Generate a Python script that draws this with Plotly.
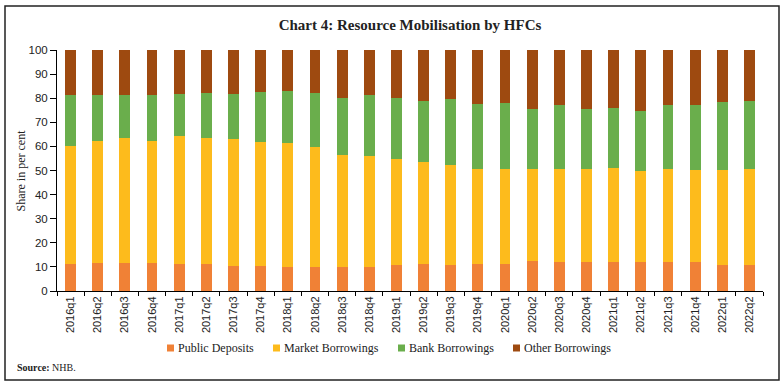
import plotly.graph_objects as go

quarters = ["2016q1","2016q2","2016q3","2016q4","2017q1","2017q2","2017q3","2017q4",
            "2018q1","2018q2","2018q3","2018q4","2019q1","2019q2","2019q3","2019q4",
            "2020q1","2020q2","2020q3","2020q4","2021q1","2021q2","2021q3","2021q4",
            "2022q1","2022q2"]

# cumulative tops
public_top = [11.1,11.5,11.5,11.5,11.1,11.1,10.4,10.5,9.8,9.8,10.1,9.8,10.6,11.1,10.6,11.3,
              11.1,12.3,11.9,11.9,11.9,11.9,11.9,11.9,10.6,10.6]
market_top = [60.3,62.4,63.3,62.2,64.2,63.3,62.9,62.0,61.3,59.6,56.4,56.2,54.6,53.7,52.1,50.5,
              50.6,50.5,50.8,50.5,50.9,49.8,50.8,50.2,50.1,50.5]
bank_top = [81.2,81.2,81.2,81.2,81.6,82.0,81.6,82.4,82.8,82.0,80.2,81.5,80.2,78.7,79.8,77.5,
            77.9,75.4,77.0,75.4,75.8,74.8,77.0,77.0,78.4,78.7]

public_deposits = public_top
market_borrowings = [round(m - p, 1) for m, p in zip(market_top, public_top)]
bank_borrowings = [round(b - m, 1) for b, m in zip(bank_top, market_top)]
other_borrowings = [round(100 - b, 1) for b in bank_top]

series_names = ["Public Deposits", "Market Borrowings", "Bank Borrowings", "Other Borrowings"]
series_values = [public_deposits, market_borrowings, bank_borrowings, other_borrowings]
series_colors = ["#F08136", "#FDBB1C", "#6AAE4C", "#9E4A10"]

fig = go.Figure()
for name, vals, col in zip(series_names, series_values, series_colors):
    fig.add_trace(go.Bar(x=quarters, y=vals, name=name, showlegend=False,
                         marker=dict(color=col, line=dict(width=0))))

W, H = 784, 387
L, R, T, B = 57, 21, 50, 96
pw, ph = W - L - R, H - T - B

def px(x):
    return (x - L) / pw

def py(y):
    return (H - B - y) / ph

serif = "Liberation Serif"
sans = "Liberation Sans"

shapes = [dict(type="rect", xref="paper", yref="paper",
               x0=px(5), x1=px(779), y0=py(380), y1=py(6),
               line=dict(color="#222", width=1.5), fillcolor="rgba(0,0,0,0)", layer="below")]
annotations = [
    dict(text="Share in per cent", xref="paper", yref="paper", x=px(20), y=0.5,
         textangle=-90, showarrow=False, xanchor="center", yanchor="middle",
         font=dict(family=serif, size=12, color="#222")),
    dict(text="<b>Source:</b> NHB.", xref="paper", yref="paper", x=px(15), y=py(367),
         showarrow=False, xanchor="left", yanchor="middle",
         font=dict(family=serif, size=10, color="#222")),
]

# manual legend (tight marker/text spacing as in the reference)
legend_marker_x = [167, 273, 398, 513]
legend_y = 348
for lx, name, col in zip(legend_marker_x, series_names, series_colors):
    shapes.append(dict(type="rect", xref="paper", yref="paper",
                       x0=px(lx), x1=px(lx + 7), y0=py(legend_y + 3.5), y1=py(legend_y - 3.5),
                       line=dict(width=0), fillcolor=col))
    annotations.append(dict(text=name, xref="paper", yref="paper", x=px(lx + 8.5), y=py(legend_y),
                            showarrow=False, xanchor="left", yanchor="middle",
                            font=dict(family=serif, size=12, color="#222")))

fig.update_layout(
    width=W, height=H,
    barmode="stack", bargap=0.6,
    margin=dict(l=L, r=R, t=T, b=B, pad=0),
    paper_bgcolor="white", plot_bgcolor="white",
    title=dict(text="<b>Chart 4: Resource Mobilisation by HFCs</b>",
               x=0.5, xanchor="center", xref="paper",
               y=1 - 25 / H, yanchor="middle",
               font=dict(family=serif, size=15, color="#222")),
    showlegend=False,
    xaxis=dict(type="category", tickangle=-90, showline=True, linecolor="black", linewidth=1,
               ticks="outside", tickson="boundaries", ticklen=4, tickcolor="black",
               tickfont=dict(family=sans, size=11, color="#222"), showgrid=False),
    yaxis=dict(range=[0, 100], dtick=10, showline=True, linecolor="black", linewidth=1,
               ticks="outside", ticklen=6, tickcolor="black", showgrid=False, zeroline=False,
               tickfont=dict(family=sans, size=11.5, color="#222")),
    shapes=shapes,
    annotations=annotations,
)

fig.write_html("out.html", config={"displayModeBar": False},
               post_script="document.body.style.margin='0';document.body.style.padding='0';")
